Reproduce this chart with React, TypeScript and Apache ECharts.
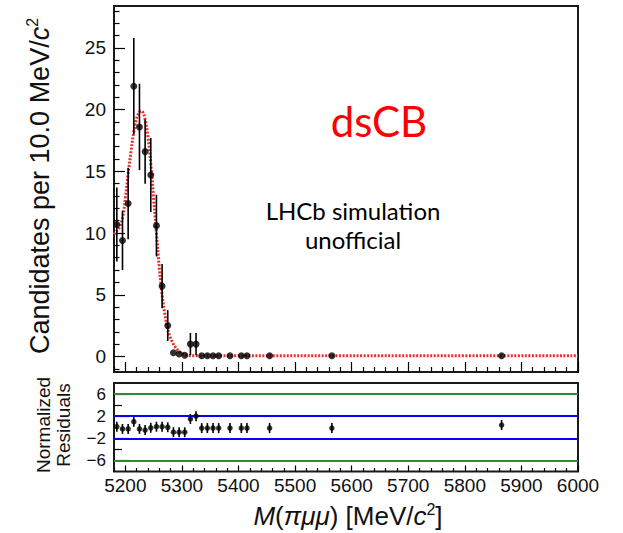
import React, { useEffect, useRef } from "react";
import * as echarts from "echarts";

// ---- data ----
const binCenters = [5185, 5195, 5205, 5215, 5225, 5235, 5245, 5255, 5265, 5275, 5285, 5295, 5305, 5315, 5325, 5335, 5345, 5355, 5365, 5385, 5405, 5415, 5455, 5565, 5865];
const counts = [10.7, 9.4, 12.4, 21.9, 18.6, 16.6, 14.7, 10.6, 5.7, 2.5, 0.3, 0.2, 0.1, 1.0, 1.0, 0.05, 0.05, 0.05, 0.05, 0.05, 0.05, 0.05, 0.05, 0.05, 0.05];
const countErrors = [3.0, 2.4, 2.9, 3.9, 3.5, 2.6, 3.0, 2.5, 1.8, 1.25, 0, 0, 0, 0.9, 0.9, 0, 0, 0, 0, 0, 0, 0, 0, 0, 0];
const residuals = [0.1, -0.3, -0.3, 1.0, -0.3, -0.5, -0.1, 0.1, 0.1, 0.0, -0.9, -0.9, -0.9, 1.5, 2.0, -0.15, -0.15, -0.15, -0.15, -0.15, -0.15, -0.15, -0.15, -0.15, 0.4];
const residualErrors = [0.9, 0.9, 0.9, 0.9, 0.9, 0.9, 0.9, 0.9, 0.9, 0.9, 0.9, 0.9, 0.9, 0.9, 0.9, 0.9, 0.9, 0.9, 0.9, 0.9, 0.9, 0.9, 0.9, 0.9, 0.9];

const fitMass = [5180, 5185, 5190, 5195, 5200, 5205, 5210, 5215, 5220, 5225, 5228, 5232, 5236, 5240, 5245, 5250, 5255, 5260, 5265, 5270, 5275, 5280, 5285, 5290, 5295, 5300, 5310, 5320, 5400, 5600, 6000];
const fitValues = [9.9, 10.2, 10.5, 11.2, 12.8, 14.8, 16.6, 18.2, 19.3, 19.8, 19.9, 19.7, 19.0, 17.8, 15.6, 12.8, 10.0, 7.2, 5.0, 3.4, 2.2, 1.5, 1.0, 0.65, 0.4, 0.25, 0.1, 0.06, 0.05, 0.05, 0.05];

const xMajorTicks = [5200, 5300, 5400, 5500, 5600, 5700, 5800, 5900, 6000];
const yMajorTicks = [0, 5, 10, 15, 20, 25];
const resMajorTicks = [-6, -2, 2, 6];
const resMinorTicks = [-4, 4];
const greenLevels = [6, -6];
const blueLevels = [2, -2];

const X_MIN = 5180, X_MAX = 6000;
const Y_MIN = -1.26, Y_MAX = 28.4;
const R_MIN = -8, R_MAX = 8;

const xMinorTicks: number[] = [];
for (let v = 5180; v <= 6000; v += 20) if (v % 100 !== 0) xMinorTicks.push(v);
const yMinorTicks: number[] = [];
for (let v = -1; v <= 28; v += 1) if (v % 5 !== 0) yMinorTicks.push(v);

const FONT = "Liberation Sans";
const TXT = "#111";

function errorBarItem(params: any, api: any) {
  const x = api.value(0);
  const lo = api.value(1);
  const hi = api.value(2);
  if (hi - lo <= 0) return null;
  const p1 = api.coord([x, lo]);
  const p2 = api.coord([x, hi]);
  return {
    type: "line",
    shape: { x1: p1[0], y1: p1[1], x2: p2[0], y2: p2[1] },
    style: { stroke: "#000", lineWidth: 1.6 },
  };
}

export default function App() {
  const ref = useRef<HTMLDivElement>(null);
  useEffect(() => {
    document.body.style.margin = "0";
    const chart = echarts.init(ref.current!, undefined, { renderer: "svg" });
    const hiddenLine = { show: false, onZero: false };
    const minorAxisBase = {
      axisLine: hiddenLine,
      axisLabel: { show: false },
      splitLine: { show: false },
    };
    const tickStyle = { color: "#000", width: 1.2 };
    const option: any = {
      animation: false,
      backgroundColor: "#fff",
      grid: [
        { left: 114, top: 6, width: 464, height: 366, show: true, borderColor: "#1a1a1a", borderWidth: 2, backgroundColor: "transparent" },
        { left: 114, top: 383, width: 464, height: 88.5, show: true, borderColor: "#1a1a1a", borderWidth: 2, backgroundColor: "transparent" },
      ],
      xAxis: [
        {
          type: "value", gridIndex: 0, min: X_MIN, max: X_MAX, position: "bottom",
          axisLine: hiddenLine, splitLine: { show: false }, axisLabel: { show: false },
          axisTick: { inside: true, length: 10, customValues: xMajorTicks, lineStyle: tickStyle },
        },
        {
          type: "value", gridIndex: 1, min: X_MIN, max: X_MAX, position: "bottom",
          axisLine: hiddenLine, splitLine: { show: false },
          axisLabel: { customValues: xMajorTicks, fontFamily: FONT, fontSize: 19, color: TXT, margin: 4, formatter: (v: number) => String(v) },
          axisTick: { inside: true, length: 6, customValues: xMajorTicks, lineStyle: tickStyle },
        },
        {
          type: "value", gridIndex: 0, min: X_MIN, max: X_MAX, position: "bottom", ...minorAxisBase,
          axisTick: { inside: true, length: 5, customValues: xMinorTicks, lineStyle: tickStyle },
        },
        {
          type: "value", gridIndex: 1, min: X_MIN, max: X_MAX, position: "bottom", ...minorAxisBase,
          axisTick: { inside: true, length: 3.5, customValues: xMinorTicks, lineStyle: tickStyle },
        },
      ],
      yAxis: [
        {
          type: "value", gridIndex: 0, min: Y_MIN, max: Y_MAX, position: "left",
          axisLine: hiddenLine, splitLine: { show: false },
          axisLabel: { customValues: yMajorTicks, fontFamily: FONT, fontSize: 19, color: TXT, margin: 8, formatter: (v: number) => String(v) },
          axisTick: { inside: true, length: 11, customValues: yMajorTicks, lineStyle: tickStyle },
        },
        {
          type: "value", gridIndex: 1, min: R_MIN, max: R_MAX, position: "left",
          axisLine: hiddenLine, splitLine: { show: false },
          axisLabel: {
            customValues: resMajorTicks, fontFamily: FONT, fontSize: 17, color: TXT, margin: 8,
            formatter: (v: number) => (v < 0 ? "\u2212" + Math.abs(v) : String(v)),
          },
          axisTick: { inside: true, length: 15, customValues: resMajorTicks, lineStyle: tickStyle },
        },
        {
          type: "value", gridIndex: 0, min: Y_MIN, max: Y_MAX, position: "left", ...minorAxisBase,
          axisTick: { inside: true, length: 5.5, customValues: yMinorTicks, lineStyle: tickStyle },
        },
        {
          type: "value", gridIndex: 1, min: R_MIN, max: R_MAX, position: "left", ...minorAxisBase,
          axisTick: { inside: true, length: 8, customValues: resMinorTicks, lineStyle: tickStyle },
        },
      ],
      series: [
        {
          type: "line", xAxisIndex: 0, yAxisIndex: 0, z: 3,
          data: fitMass.map((m, i) => [m, fitValues[i]]),
          showSymbol: false, smooth: 0.35,
          lineStyle: { color: "#e8302c", width: 3, type: [2, 1.5] },
        },
        {
          type: "custom", xAxisIndex: 0, yAxisIndex: 0, z: 4,
          renderItem: errorBarItem,
          encode: { x: 0, y: [1, 2] },
          data: binCenters.map((m, i) => [m, counts[i] - countErrors[i], counts[i] + countErrors[i]]),
        },
        {
          type: "scatter", xAxisIndex: 0, yAxisIndex: 0, z: 5,
          symbol: "circle", symbolSize: 7,
          itemStyle: { color: "#000" },
          data: binCenters.map((m, i) => [m, counts[i]]),
        },
        {
          type: "line", xAxisIndex: 1, yAxisIndex: 1, z: 2,
          data: [[X_MIN, 0]], showSymbol: false, lineStyle: { opacity: 0 },
          markLine: {
            silent: true, symbol: ["none", "none"], label: { show: false },
            data: [
              ...greenLevels.map((v) => ({ yAxis: v, lineStyle: { color: "#2e8b2e", width: 2.2, type: "solid" } })),
              ...blueLevels.map((v) => ({ yAxis: v, lineStyle: { color: "#0000ff", width: 2.2, type: "solid" } })),
            ],
          },
        },
        {
          type: "custom", xAxisIndex: 1, yAxisIndex: 1, z: 4,
          renderItem: errorBarItem,
          encode: { x: 0, y: [1, 2] },
          data: binCenters.map((m, i) => [m, residuals[i] - residualErrors[i], residuals[i] + residualErrors[i]]),
        },
        {
          type: "scatter", xAxisIndex: 1, yAxisIndex: 1, z: 5,
          symbol: "circle", symbolSize: 5.5,
          itemStyle: { color: "#000" },
          data: binCenters.map((m, i) => [m, residuals[i]]),
        },
      ],
      graphic: [
        {
          type: "text", x: 40, y: 186, rotation: Math.PI / 2,
          style: {
            text: "{n|Candidates per 10.0 MeV/}{i|c}{s|2}",
            align: "center", verticalAlign: "middle", fill: TXT,
            rich: {
              n: { fontFamily: FONT, fontSize: 27, lineHeight: 31, fill: TXT },
              i: { fontFamily: FONT, fontSize: 27, lineHeight: 31, fontStyle: "italic", fill: TXT },
              s: { fontFamily: FONT, fontSize: 16, lineHeight: 18, verticalAlign: "top", fill: TXT },
            },
          },
        },
        {
          type: "text", x: 53, y: 425, rotation: Math.PI / 2,
          style: {
            text: "Normalized\nResiduals",
            align: "center", verticalAlign: "middle", fill: TXT,
            fontFamily: FONT, fontSize: 19, lineHeight: 20,
          },
        },
        {
          type: "text", x: 348, y: 516,
          style: {
            text: "{i|M}{n|(}{i|πμμ}{n|) [MeV/}{i|c}{s|2}{n|]}",
            align: "center", verticalAlign: "middle", fill: TXT,
            rich: {
              n: { fontFamily: FONT, fontSize: 26, lineHeight: 30, fill: TXT },
              i: { fontFamily: FONT, fontSize: 26, lineHeight: 30, fontStyle: "italic", fill: TXT },
              s: { fontFamily: FONT, fontSize: 16, lineHeight: 18, verticalAlign: "top", fill: TXT },
            },
          },
        },
        {
          type: "text", x: 379, y: 121,
          style: { text: "dsCB", align: "center", verticalAlign: "middle", fill: "#ff0000", fontFamily: "Lato", fontSize: 42 },
        },
        {
          type: "text", x: 353, y: 210,
          style: { text: "LHCb simulation", align: "center", verticalAlign: "middle", fill: "#000", fontFamily: "Lato", fontSize: 24, lineHeight: 26 },
        },
        {
          type: "text", x: 353, y: 239,
          style: { text: "unofficial", align: "center", verticalAlign: "middle", fill: "#000", fontFamily: "Lato", fontSize: 24, lineHeight: 26 },
        },
      ],
    };
    chart.setOption(option);
    return () => chart.dispose();
  }, []);
  return <div ref={ref} style={{ width: 623, height: 533, position: "absolute", left: 0, top: 0 }} />;
}
